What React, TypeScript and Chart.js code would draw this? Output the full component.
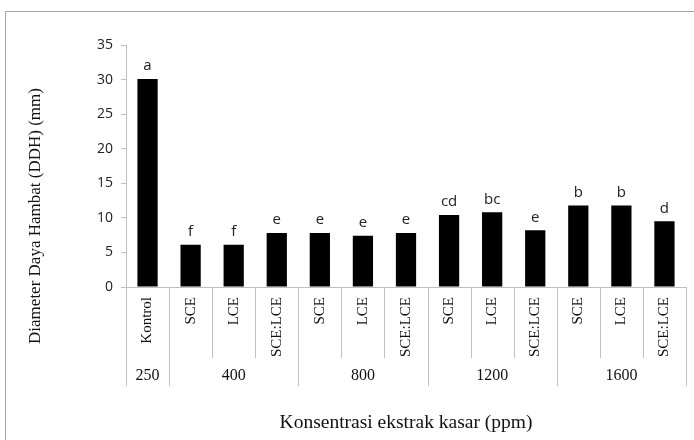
import React, { useEffect, useRef } from "react";
import { Chart, registerables } from "chart.js";

Chart.register(...registerables);

const treatments = ["Kontrol", "SCE", "LCE", "SCE:LCE", "SCE", "LCE", "SCE:LCE", "SCE", "LCE", "SCE:LCE", "SCE", "LCE", "SCE:LCE"];
const groupLabels = ["250", "400", "800", "1200", "1600"];
const groupSizes = [1, 3, 3, 3, 3];
const ddhValues = [30.1, 6.1, 6.1, 7.8, 7.8, 7.4, 7.8, 10.4, 10.8, 8.2, 11.8, 11.8, 9.5];
const letters = ["a", "f", "f", "e", "e", "e", "e", "cd", "bc", "e", "b", "b", "d"];
const yTicks = [0, 5, 10, 15, 20, 25, 30, 35];

const GRID = "#bfbfbf";
const SERIF = "'Liberation Serif', 'Times New Roman', serif";
const SANS = "'Open Sans', 'Liberation Sans', sans-serif";

const decorPlugin = {
  id: "decor",
  beforeDraw(chart: any) {
    const ctx = chart.ctx;
    ctx.save();
    ctx.fillStyle = "#ffffff";
    ctx.fillRect(0, 0, chart.width, chart.height);
    ctx.strokeStyle = "#a6a6a6";
    ctx.lineWidth = 1;
    ctx.strokeRect(5.5, 11.5, chart.width + 10, chart.height + 10);
    ctx.restore();
  },
  afterDraw(chart: any) {
    const ctx = chart.ctx;
    const xs = chart.scales.x;
    const ys = chart.scales.y;
    const area = chart.chartArea;
    const n = treatments.length;
    const w = (area.right - area.left) / n;
    const bottom = area.bottom;
    ctx.save();
    // separators
    const groupBounds = new Set<number>();
    let acc = 0;
    groupBounds.add(0);
    groupSizes.forEach((s) => {
      acc += s;
      groupBounds.add(acc);
    });
    ctx.strokeStyle = GRID;
    ctx.lineWidth = 1;
    for (let i = 0; i <= n; i++) {
      const xb = Math.round(xs.getPixelForValue(Math.min(i, n - 1)) + (i === n ? w / 2 : -w / 2)) + 0.5;
      const end = groupBounds.has(i) ? bottom + 99 : bottom + 71;
      ctx.beginPath();
      ctx.moveTo(xb, bottom);
      ctx.lineTo(xb, end);
      ctx.stroke();
    }
    // rotated category labels
    ctx.fillStyle = "#111";
    ctx.font = "15px " + SERIF;
    treatments.forEach((t, i) => {
      const cx = xs.getPixelForValue(i);
      ctx.save();
      ctx.translate(cx, bottom + 10);
      ctx.rotate(-Math.PI / 2);
      ctx.textAlign = "right";
      ctx.textBaseline = "middle";
      ctx.fillText(t, 0, 0);
      ctx.restore();
    });
    // group labels
    ctx.font = "16px " + SERIF;
    ctx.textAlign = "center";
    ctx.textBaseline = "middle";
    let start = 0;
    groupLabels.forEach((g, gi) => {
      const s = groupSizes[gi];
      const x0 = xs.getPixelForValue(start);
      const x1 = xs.getPixelForValue(start + s - 1);
      ctx.fillText(g, (x0 + x1) / 2, bottom + 89);
      start += s;
    });
    // letters
    ctx.font = "15px " + SANS;
    ctx.fillStyle = "#222";
    ctx.textBaseline = "middle";
    letters.forEach((l, i) => {
      const x = xs.getPixelForValue(i);
      const y = ys.getPixelForValue(ddhValues[i]);
      ctx.fillText(l, x, y - 13);
    });
    // axis titles
    ctx.fillStyle = "#111";
    ctx.font = "19.5px " + SERIF;
    ctx.fillText("Konsentrasi ekstrak kasar (ppm)", (area.left + area.right) / 2 + 0, 423);
    ctx.save();
    ctx.translate(36, 216);
    ctx.rotate(-Math.PI / 2);
    ctx.font = "17px " + SERIF;
    ctx.fillText("Diameter Daya Hambat (DDH) (mm)", 0, 0);
    ctx.restore();
    ctx.restore();
  },
};

export default function App() {
  const ref = useRef<HTMLCanvasElement | null>(null);
  useEffect(() => {
    if (!ref.current) return;
    const chart = new Chart(ref.current, {
      type: "bar",
      data: {
        labels: treatments.map((t, i) => t + "_" + i),
        datasets: [
          {
            data: ddhValues,
            backgroundColor: "#000000",
            borderWidth: 0,
            barPercentage: 0.47,
            categoryPercentage: 1,
          },
        ],
      },
      options: {
        animation: false,
        responsive: false,
        maintainAspectRatio: false,
        layout: { padding: { top: 45, right: 8, bottom: 0, left: 0 } },
        plugins: { legend: { display: false }, tooltip: { enabled: false } },
        scales: {
          x: {
            offset: true,
            grid: { display: false },
            ticks: { display: false },
            border: { display: true, color: GRID, width: 1 },
            afterFit: (s: any) => {
              s.height = 153;
            },
          },
          y: {
            min: 0,
            max: 35,
            afterBuildTicks: (s: any) => {
              s.ticks = yTicks.map((v) => ({ value: v }));
            },
            grid: { display: true, drawOnChartArea: false, drawTicks: true, tickLength: 5, color: GRID },
            border: { display: true, color: GRID, width: 1 },
            ticks: { color: "#222", font: { family: SANS, size: 14 }, padding: 8 },
            afterFit: (s: any) => {
              s.width = 126;
            },
          },
        },
      },
      plugins: [decorPlugin],
    });
    return () => chart.destroy();
  }, []);
  return (
    <div style={{ position: "fixed", left: 0, top: 0, width: 694, height: 440, background: "#fff" }}>
      <canvas ref={ref} width={694} height={440} style={{ display: "block", width: 694, height: 440 }} />
    </div>
  );
}
